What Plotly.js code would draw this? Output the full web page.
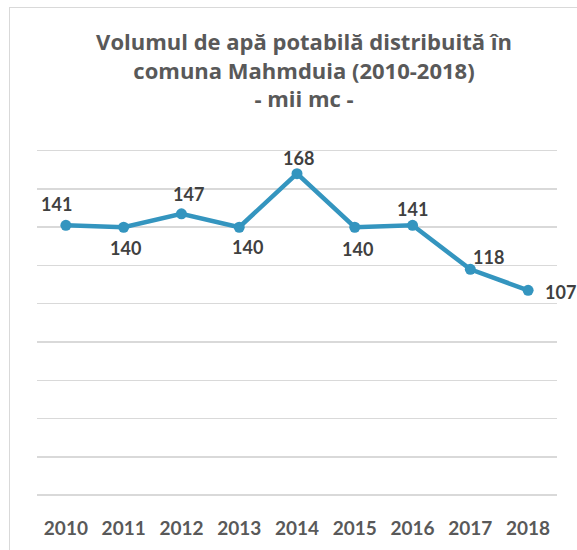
<!DOCTYPE html>
<html>
<head>
<meta charset="utf-8">
<script src="https://cdn.plot.ly/plotly-3.0.1.min.js"></script>
<style>
  html, body { margin: 0; padding: 0; background: #ffffff; }
  #frame { position: absolute; left: 9px; top: 7px; width: 700px; height: 700px; border: 1.3px solid #d9d9d9; z-index: 0; }
  #chart { position: absolute; left: 0; top: 0; width: 577px; height: 550px; z-index: 1; }
</style>
</head>
<body>
<div id="frame"></div>
<div id="chart"></div>
<script>
const years = ['2010', '2011', '2012', '2013', '2014', '2015', '2016', '2017', '2018'];
const volumes = [141, 140, 147, 140, 168, 140, 141, 118, 107];

// label placement offsets in pixels (x right, y up) — styling only
const labelShiftX = [-9, 2, 7, 8, 1, 3, 0, 18, 32];
const labelShiftY = [21, -21, 20, -20, 16, -22, 16, 12, -2];

const lineColor = 'rgb(52,149,191)';
const fontFamily = 'Lato, "Open Sans", sans-serif';

const annotations = years.map((yr, i) => ({
  x: i, y: volumes[i], xref: 'x', yref: 'y',
  text: '<b>' + volumes[i] + '</b>',
  showarrow: false, xanchor: 'center', yanchor: 'middle',
  xshift: labelShiftX[i], yshift: labelShiftY[i],
  font: { family: fontFamily, size: 18, color: '#404040' }
}));

const trace = {
  x: years, y: volumes, type: 'scatter', mode: 'lines+markers',
  line: { color: lineColor, width: 4.5 },
  marker: { color: lineColor, size: 11 },
  hoverinfo: 'skip'
};

const layout = {
  width: 577, height: 550,
  margin: { l: 37, r: 20, t: 145, b: 55, pad: 0 },
  paper_bgcolor: 'rgba(0,0,0,0)', plot_bgcolor: 'rgba(0,0,0,0)',
  showlegend: false,
  title: {
    text: '<b>Volumul de apă potabilă distribuită în<br>comuna Mahmduia (2010-2018)<br>- mii mc -</b>',
    font: { family: '"Open Sans", Lato, sans-serif', size: 22, color: '#595959' },
    x: 304 / 577, xanchor: 'center', xref: 'container',
    y: 1 - 50 / 550, yanchor: 'top', yref: 'container'
  },
  xaxis: {
    type: 'category', range: [-0.5, years.length - 0.5],
    showgrid: false, zeroline: false, showline: false,
    ticks: 'outside', ticklen: 16, tickcolor: 'rgba(0,0,0,0)',
    tickfont: { family: fontFamily, size: 19, color: '#595959', weight: 'bold' },
    fixedrange: true
  },
  yaxis: {
    range: [0, 183], dtick: 20, tick0: 0, showticklabels: false,
    showgrid: true, gridcolor: '#d9d9d9', gridwidth: 1.5,
    zeroline: true, zerolinecolor: '#d9d9d9', zerolinewidth: 1.5,
    showline: false, ticks: '', fixedrange: true
  },
  annotations: annotations
};

Plotly.newPlot('chart', [trace], layout, { displayModeBar: false, staticPlot: true });
</script>
</body>
</html>
